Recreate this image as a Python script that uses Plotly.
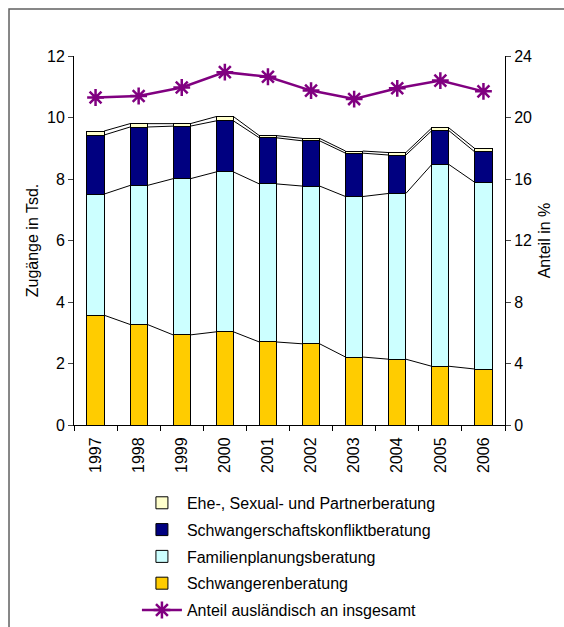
import plotly.graph_objects as go

years = ["1997", "1998", "1999", "2000", "2001", "2002", "2003", "2004", "2005", "2006"]
schwangeren = [3.57, 3.27, 2.93, 3.03, 2.70, 2.64, 2.21, 2.14, 1.91, 1.82]
familien = [3.94, 4.52, 5.08, 5.20, 5.14, 5.13, 5.22, 5.39, 6.56, 6.07]
konflikt = [1.92, 1.90, 1.71, 1.66, 1.50, 1.47, 1.41, 1.25, 1.10, 0.99]
ehe = [0.13, 0.11, 0.08, 0.14, 0.07, 0.08, 0.07, 0.08, 0.09, 0.11]
anteil = [21.3, 21.4, 21.95, 22.95, 22.65, 21.75, 21.2, 21.9, 22.4, 21.7]

names = ["Schwangerenberatung", "Familienplanungsberatung",
         "Schwangerschaftskonfliktberatung", "Ehe-, Sexual- und Partnerberatung"]
series = [schwangeren, familien, konflikt, ehe]
colors = ["#FFCC00", "#CCFFFF", "#000080", "#FFFFCC"]
ranks = [4, 3, 2, 1]

FONT = "Arial, 'Liberation Sans', sans-serif"
FS = 16
BW = 0.4
xs = list(range(len(years)))

fig = go.Figure()

for name, vals, col, rk in zip(names, series, colors, ranks):
    fig.add_trace(go.Bar(
        x=xs, y=vals, name=name, width=BW,
        marker=dict(color=col, line=dict(color="black", width=1)),
        legendrank=rk, legendgroup=name,
    ))

# Series lines connecting stacked segment tops
cum = [0] * len(years)
for vals in series:
    cum = [c + v for c, v in zip(cum, vals)]
    lx, ly = [], []
    for i in range(len(years) - 1):
        lx += [i + BW / 2, i + 1 - BW / 2, None]
        ly += [cum[i], cum[i + 1], None]
    fig.add_trace(go.Scatter(x=lx, y=ly, mode="lines",
                             line=dict(color="black", width=1),
                             showlegend=False, hoverinfo="skip"))

fig.add_trace(go.Scatter(
    x=xs, y=anteil, yaxis="y2", name="Anteil ausländisch an insgesamt",
    mode="lines+markers",
    line=dict(color="#800080", width=2.5),
    marker=dict(symbol="asterisk-open", size=14,
                line=dict(color="#800080", width=2.5), color="#800080"),
    legendrank=5, legendgroup="anteil",
))

fig.update_layout(
    width=564, height=627,
    barmode="stack",
    paper_bgcolor="white", plot_bgcolor="white",
    font=dict(family=FONT, size=FS, color="black"),
    margin=dict(l=74, r=59, t=56, b=202, autoexpand=False),
    xaxis=dict(
        range=[-0.5, len(years) - 0.5],
        tickvals=xs, ticktext=years, tickangle=-90,
        ticks="", showline=True, linecolor="black", linewidth=1,
        showgrid=False, zeroline=False,
        tickfont=dict(size=FS), ticklabelstandoff=5,
        minor=dict(tickvals=[i - 0.5 for i in range(len(years) + 1)],
                   ticks="outside", ticklen=5, tickcolor="black", showgrid=False),
    ),
    yaxis=dict(
        range=[0, 12], dtick=2, ticks="outside", ticklen=5,
        showline=True, linecolor="black", linewidth=1,
        showgrid=False, zeroline=False,
        title=dict(text="Zugänge in Tsd.", font=dict(size=FS), standoff=4),
    ),
    yaxis2=dict(
        range=[0, 24], dtick=4, overlaying="y", side="right",
        ticks="outside", ticklen=5,
        showline=True, linecolor="black", linewidth=1,
        showgrid=False, zeroline=False,
        title=dict(text="Anteil in %", font=dict(size=FS), standoff=7),
    ),
    legend=dict(
        x=0.146, y=-0.165, xanchor="left", yanchor="top",
        traceorder="grouped", tracegroupgap=3,
        font=dict(size=FS), bgcolor="rgba(0,0,0,0)",
        itemwidth=40,
    ),
    shapes=[dict(
        type="rect", xref="paper", yref="paper",
        x0=-0.1508, x1=1.2, y0=-0.7, y1=1.1274,
        line=dict(color="#606060", width=1.5), fillcolor="rgba(0,0,0,0)",
        layer="below",
    )],
)

fig.write_html("out.html", config={"displayModeBar": False},
               post_script="document.body.style.margin='0';document.body.style.overflow='hidden';")
